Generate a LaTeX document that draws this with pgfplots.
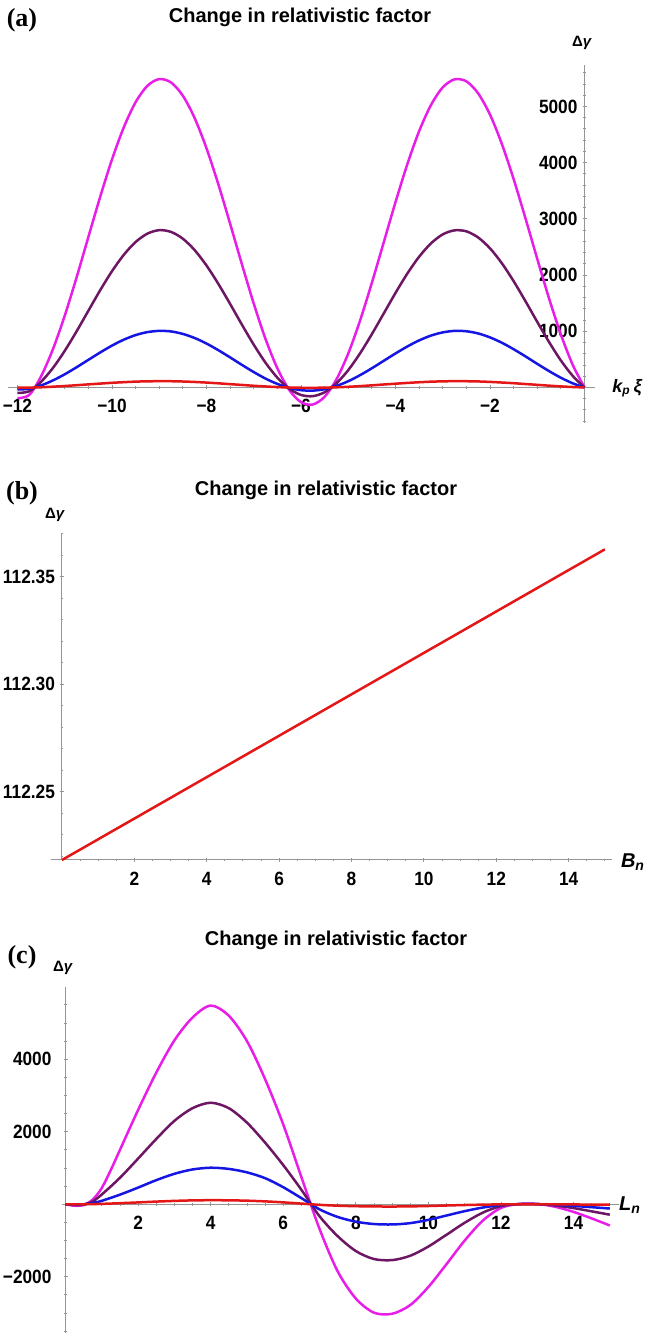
\documentclass[border=0pt]{standalone}
\usepackage{pgfplots}
\pgfplotsset{compat=1.18}
\usepackage{fontspec}
\setmainfont{Liberation Sans}
\newfontfamily\serifbf{Liberation Serif}
\newfontfamily\tickfont{Liberation Sans}[FakeStretch=0.9]
\definecolor{cmag}{RGB}{232,30,232}
\definecolor{cpur}{RGB}{108,22,100}
\definecolor{cblue}{RGB}{22,22,228}
\definecolor{cred}{RGB}{228,22,22}
\definecolor{axgray}{RGB}{150,150,150}
\pgfplotsset{
  mma/.style={
    scale only axis,
    anchor=south west,
    axis line style={axgray, line width=0.5pt},
    tick style={axgray, line width=0.45pt},
    major tick length=2pt,
    minor tick length=1.3pt,
    tick align=inside,
    tick label style={font=\tickfont\fontsize{9.6}{11}\selectfont\bfseries},
    xticklabel style={yshift=-1.5pt},
    scaled ticks=false,
    clip=false,
    every axis plot/.append style={line width=1.25pt, no markers, smooth, line join=round},
  },
  noarrow/.style={
    every inner x axis line/.append style={-},
    every inner y axis line/.append style={-},
    every outer x axis line/.append style={-},
    every outer y axis line/.append style={-},
  }
}
\begin{document}
\begin{tikzpicture}
\path[use as bounding box] (0,0) rectangle (328pt,666.5pt);
% ---------------- panel (a)
\begin{axis}[mma, at={(4pt,455pt)}, width=293.5pt, height=179pt,
  axis lines=middle, noarrow, xmin=-12.2, xmax=0.222, ymin=-632, ymax=5738,
  xtick={-12,-10,-8,-6,-4,-2}, xticklabels={−12,−10,−8,−6,−4,−2},
  ytick={1000,2000,3000,4000,5000}, yticklabels={1000,2000,3000,4000,5000},
  yticklabel style={xshift=1pt},
  minor xtick={-11.5,-11,-10.5,-9.5,-9,-8.5,-7.5,-7,-6.5,-5.5,-5,-4.5,-3.5,-3,-2.5,-1.5,-1,-0.5},
  minor ytick={-600,-400,-200,200,400,600,800,1200,1400,1600,1800,2200,2400,2600,2800,3200,3400,3600,3800,4200,4400,4600,4800,5200,5400,5600}]
\addplot[cmag] coordinates {(-12,-192)(-11.75,-133)(-11.5,198)(-11.25,679)(-11,1276)(-10.75,1954)(-10.5,2675)(-10.25,3390)(-10,4055)(-9.75,4628)(-9.5,5075)(-9.25,5367)(-9,5487)(-8.75,5427)(-8.5,5191)(-8.25,4793)(-8,4257)(-7.75,3618)(-7.5,2915)(-7.25,2192)(-7,1494)(-6.75,862)(-6.5,341)(-6.25,-42)(-6,-261)(-5.75,-303)(-5.5,-166)(-5.25,144)(-5,604)(-4.75,1190)(-4.5,1862)(-4.25,2579)(-4,3297)(-3.75,3971)(-3.5,4560)(-3.25,5024)(-3,5340)(-2.75,5482)(-2.5,5447)(-2.25,5232)(-2,4855)(-1.75,4335)(-1.5,3708)(-1.25,3011)(-1,2288)(-0.75,1583)(-0.5,942)(-0.25,403)(0,0)};
\addplot[cpur] coordinates {(-12,-98)(-11.75,-68)(-11.5,101)(-11.25,346)(-11,651)(-10.75,997)(-10.5,1364)(-10.25,1729)(-10,2068)(-9.75,2360)(-9.5,2588)(-9.25,2737)(-9,2799)(-8.75,2768)(-8.5,2647)(-8.25,2444)(-8,2171)(-7.75,1845)(-7.5,1487)(-7.25,1118)(-7,762)(-6.75,440)(-6.5,174)(-6.25,-21)(-6,-133)(-5.75,-155)(-5.5,-85)(-5.25,74)(-5,308)(-4.75,607)(-4.5,949)(-4.25,1315)(-4,1682)(-3.75,2026)(-3.5,2326)(-3.25,2563)(-3,2724)(-2.75,2796)(-2.5,2778)(-2.25,2668)(-2,2476)(-1.75,2211)(-1.5,1891)(-1.25,1536)(-1,1167)(-0.75,808)(-0.5,480)(-0.25,206)(0,0)};
\addplot[cblue] coordinates {(-12,-35)(-11.75,-24)(-11.5,36)(-11.25,125)(-11,234)(-10.75,359)(-10.5,491)(-10.25,622)(-10,745)(-9.75,850)(-9.5,932)(-9.25,985)(-9,1007)(-8.75,997)(-8.5,953)(-8.25,880)(-8,782)(-7.75,664)(-7.5,535)(-7.25,402)(-7,274)(-6.75,158)(-6.5,63)(-6.25,-8)(-6,-48)(-5.75,-56)(-5.5,-31)(-5.25,27)(-5,111)(-4.75,219)(-4.5,342)(-4.25,474)(-4,605)(-3.75,729)(-3.5,837)(-3.25,923)(-3,980)(-2.75,1007)(-2.5,1000)(-2.25,961)(-2,891)(-1.75,796)(-1.5,681)(-1.25,553)(-1,420)(-0.75,291)(-0.5,173)(-0.25,74)(0,0)};
\addplot[cred] coordinates {(-12,-4)(-11.75,-3)(-11.5,4)(-11.25,14)(-11,26)(-10.75,40)(-10.5,55)(-10.25,69)(-10,83)(-9.75,94)(-9.5,104)(-9.25,109)(-9,112)(-8.75,111)(-8.5,106)(-8.25,98)(-8,87)(-7.75,74)(-7.5,59)(-7.25,45)(-7,30)(-6.75,18)(-6.5,7)(-6.25,-1)(-6,-5)(-5.75,-6)(-5.5,-3)(-5.25,3)(-5,12)(-4.75,24)(-4.5,38)(-4.25,53)(-4,67)(-3.75,81)(-3.5,93)(-3.25,103)(-3,109)(-2.75,112)(-2.5,111)(-2.25,107)(-2,99)(-1.75,88)(-1.5,76)(-1.25,61)(-1,47)(-0.75,32)(-0.5,19)(-0.25,8)(0,0)};
\end{axis}
% ---------------- panel (b)
\begin{axis}[mma, at={(25.55pt,236.5pt)}, width=280.5pt, height=163.5pt,
  axis x line=bottom, axis y line=middle, noarrow, xmin=-0.3, xmax=15.2, ymin=112.2182, ymax=112.3703,
  xtick={2,4,6,8,10,12,14}, xticklabels={2,4,6,8,10,12,14},
  ytick={112.25,112.30,112.35}, yticklabels={112.25,112.30,112.35},
  minor xtick={0.5,1,...,15},
  minor ytick={112.22,112.23,112.24,112.26,112.27,112.28,112.29,112.31,112.32,112.33,112.34,112.36,112.37},
  yticklabel style={xshift=1pt}]
\addplot[cred] coordinates {(0,112.2182)(15,112.3627)};
\end{axis}
% ---------------- panel (c)
\begin{axis}[mma, at={(30.95pt,0pt)}, width=278.5pt, height=173.15pt,
  axis lines=middle, noarrow, xmin=-0.1, xmax=15.25, ymin=-3550, ymax=6000,
  xtick={2,4,6,8,10,12,14}, xticklabels={2,4,6,8,10,12,14},
  ytick={-2000,2000,4000}, yticklabels={−2000,2000,4000},
  minor xtick={0.5,1,...,15},
  minor ytick={-3500,-3000,-2500,-1500,-1000,-500,500,1000,1500,2500,3000,3500,4500,5000,5500},
  yticklabel style={xshift=-2.5pt}]
\addplot[cmag] coordinates {(0,0)(0.25,-40)(0.5,-20)(0.75,130)(1,450)(1.25,950)(1.5,1500)(2,2600)(2.5,3630)(3,4520)(3.5,5150)(4,5480)(4.5,5200)(5,4500)(5.5,3450)(6,2200)(6.5,750)(7,-680)(7.5,-1850)(8,-2600)(8.5,-2990)(9,-3020)(9.5,-2780)(10,-2280)(10.5,-1650)(11,-1000)(11.5,-450)(12,-100)(12.5,10)(13,10)(13.5,-70)(14,-210)(14.5,-390)(15,-585)};
\addplot[cpur] coordinates {(0,0)(0.25,-20)(0.5,-10)(0.75,80)(1,270)(1.5,730)(2,1260)(2.5,1800)(3,2300)(3.5,2650)(4,2800)(4.5,2650)(5,2250)(5.5,1700)(6,1080)(6.5,400)(7,-330)(7.5,-880)(8,-1290)(8.5,-1510)(9,-1540)(9.5,-1420)(10,-1165)(10.5,-840)(11,-510)(11.5,-230)(12,-50)(12.5,5)(13,5)(13.5,-35)(14,-105)(14.5,-195)(15,-288)};
\addplot[cblue] coordinates {(0,0)(0.25,-12)(0.5,0)(0.75,35)(1,95)(1.5,265)(2,460)(2.5,665)(3,840)(3.5,960)(4,1008)(4.5,975)(5,880)(5.5,720)(6,470)(6.5,170)(7,-140)(7.5,-350)(8,-480)(8.5,-545)(9,-557)(9.5,-520)(10,-430)(10.5,-310)(11,-190)(11.5,-90)(12,-25)(12.5,2)(13,2)(13.5,-15)(14,-45)(14.5,-80)(15,-117)};
\addplot[cred] coordinates {(0,0)(0.5,0)(1,11)(1.5,30)(2,51)(2.5,74)(3,93)(3.5,107)(4,112)(4.5,109)(5,99)(5.5,80)(6,52)(6.5,19)(7,-16)(7.5,-39)(8,-53)(8.5,-60)(9,-62)(9.5,-58)(10,-48)(10.5,-34)(11,-21)(11.5,-10)(12,-3)(12.5,0)(13,0)(13.5,-2)(14,-5)(14.5,-9)(15,-13)};
\end{axis}
% ---------------- texts
\newcommand\ttl{\fontsize{10}{12}\selectfont\bfseries Change in relativistic factor}
\newcommand\pan[1]{\serifbf\fontsize{13}{15}\selectfont\bfseries (#1)}
\newcommand\dg{\fontsize{7.5}{9}\selectfont\bfseries Δ\textit{γ}}
\node at (11pt,656.5pt) {\pan{a}};
\node at (150pt,658pt) {\ttl};
\node at (291pt,645pt) {\dg};
\node at (313.5pt,472.5pt) {\fontsize{9}{10}\selectfont\bfseries\itshape k\textsubscript{p}\,ξ};
\node at (11pt,420pt) {\pan{b}};
\node at (163pt,421.5pt) {\ttl};
\node at (27.5pt,409pt) {\dg};
\node at (316.5pt,235.5pt) {\fontsize{10}{12}\selectfont\bfseries\itshape B\textsubscript{n}};
\node at (11pt,188pt) {\pan{c}};
\node at (168pt,196.5pt) {\ttl};
\node at (31.5pt,182.5pt) {\dg};
\node at (315pt,64pt) {\fontsize{10}{12}\selectfont\bfseries\itshape L\textsubscript{n}};
\end{tikzpicture}
\end{document}
